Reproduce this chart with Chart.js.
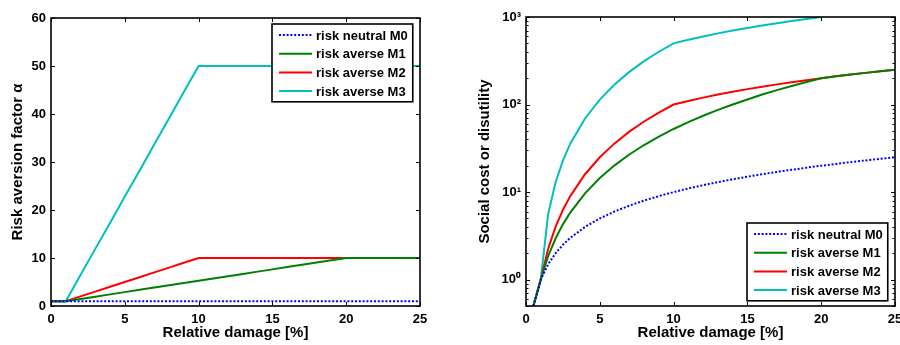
<!DOCTYPE html>
<html>
<head>
<meta charset="utf-8">
<script src="https://cdn.jsdelivr.net/npm/chart.js@4"></script>
<style>
  html, body { margin: 0; padding: 0; background: #fff; width: 900px; height: 345px; overflow: hidden; }
  #left { position: absolute; left: 0; top: 0; }
  #right { position: absolute; left: 450px; top: 0; }
</style>
</head>
<body>
<canvas id="left" width="450" height="345"></canvas>
<canvas id="right" width="470" height="345"></canvas>
<script>
// Left panel: risk aversion factor vs relative damage
const damage = [0, 1, 2, 3, 4, 5, 6, 7, 8, 9, 10, 11, 12, 13, 14, 15, 16, 17, 18, 19, 20, 21, 22, 23, 24, 25];
const alphaM0 = [1, 1, 1, 1, 1, 1, 1, 1, 1, 1, 1, 1, 1, 1, 1, 1, 1, 1, 1, 1, 1, 1, 1, 1, 1, 1];
const alphaM1 = [1, 1, 1.47, 1.95, 2.42, 2.89, 3.37, 3.84, 4.32, 4.79, 5.26, 5.74, 6.21, 6.68, 7.16, 7.63, 8.11, 8.58, 9.05, 9.53, 10, 10, 10, 10, 10, 10];
const alphaM2 = [1, 1, 2, 3, 4, 5, 6, 7, 8, 9, 10, 10, 10, 10, 10, 10, 10, 10, 10, 10, 10, 10, 10, 10, 10, 10];
const alphaM3 = [1, 1, 6.44, 11.9, 17.3, 22.8, 28.2, 33.7, 39.1, 44.6, 50, 50, 50, 50, 50, 50, 50, 50, 50, 50, 50, 50, 50, 50, 50, 50];

// Right panel: social cost (log scale)
const damageCost = [0.5, 1, 1.5, 2, 2.5, 3, 4, 5, 6, 7, 8, 9, 10, 11, 12, 13, 14, 15, 16, 17, 18, 19, 20, 21, 22, 23, 24, 25];
const costM0 = [0.5, 1, 1.5, 2, 2.5, 3, 4, 5, 6, 7, 8, 9, 10, 11, 12, 13, 14, 15, 16, 17, 18, 19, 20, 21, 22, 23, 24, 25];
const costM1 = [0.5, 1, 1.86, 2.95, 4.28, 5.84, 9.68, 14.5, 20.2, 26.9, 34.5, 43.1, 52.6, 63.1, 74.5, 86.9, 100, 114, 130, 146, 163, 181, 200, 210, 220, 230, 240, 250];
const costM2 = [0.5, 1, 2.25, 4, 6.25, 9, 16, 25, 36, 49, 64, 81, 100, 110, 120, 130, 140, 150, 160, 170, 180, 190, 200, 210, 220, 230, 240, 250];
const costM3 = [0.5, 1, 5.58, 12.9, 22.9, 35.7, 69.3, 114, 169, 236, 313, 401, 500, 550, 600, 650, 700, 750, 800, 850, 900, 950, 1000];

const seriesNames = ['risk neutral M0', 'risk averse M1', 'risk averse M2', 'risk averse M3'];
const colors = ['#0000ff', '#008000', '#ff0000', '#00bfbf'];
const decadeLabels = { 1: '10\u2070', 10: '10\u00b9', 100: '10\u00b2', 1000: '10\u00b3' };

const FONT = 'Liberation Sans, Arial, Helvetica, sans-serif';
Chart.defaults.font.family = FONT;
Chart.defaults.color = '#000';

function points(xs, ys) {
  return ys.map((y, i) => ({ x: xs[i], y }));
}

function makeDatasets(xs, lists) {
  return lists.map((ys, i) => ({
    label: seriesNames[i],
    data: points(xs, ys),
    borderColor: colors[i],
    backgroundColor: colors[i],
    borderWidth: 2,
    borderDash: i === 0 ? [2, 1.8] : [],
    pointRadius: 0,
    tension: 0
  }));
}

function line(ctx, x1, y1, x2, y2) {
  ctx.beginPath();
  ctx.moveTo(x1, y1);
  ctx.lineTo(x2, y2);
  ctx.stroke();
}

// box around plot + inward ticks, matlab style
const framePlugin = {
  id: 'frame',
  afterDatasetsDraw(chart) {
    const { ctx, chartArea: a, scales } = chart;
    const L = Math.round(a.left), R = Math.round(a.right);
    const T = Math.round(a.top), B = Math.round(a.bottom);
    ctx.save();
    ctx.strokeStyle = '#000';
    ctx.lineWidth = 1;
    scales.x.ticks.forEach(t => {
      const px = Math.round(scales.x.getPixelForValue(t.value)) + 0.5;
      line(ctx, px, B, px, B - 4);
      line(ctx, px, T, px, T + 4);
    });
    const ys = scales.y;
    ys.ticks.forEach(t => {
      const py = Math.round(ys.getPixelForValue(t.value)) + 0.5;
      line(ctx, L, py, L + 4, py);
      line(ctx, R, py, R - 4, py);
    });
    if (ys.type === 'logarithmic') {
      for (let d = 0.1; d < ys.max; d *= 10) {
        for (let k = 2; k <= 9; k++) {
          const v = d * k;
          if (v < ys.min || v > ys.max) continue;
          const py = Math.round(ys.getPixelForValue(v)) + 0.5;
          line(ctx, L, py, L + 2.5, py);
          line(ctx, R, py, R - 2.5, py);
        }
      }
    }
    ctx.lineWidth = 1.6;
    ctx.strokeRect(L, T, R - L, B - T);
    ctx.restore();
  }
};

// legend drawn inside the plot area with a black box
function boxLegend(corner) {
  return {
    id: 'boxLegend',
    afterDraw(chart) {
      const { ctx, chartArea: a } = chart;
      const sets = chart.data.datasets;
      ctx.save();
      ctx.font = 'bold 13px ' + FONT;
      const tw = Math.max(...sets.map(d => ctx.measureText(d.label).width));
      const w = 7 + 33 + 4 + tw + 5;
      const rowH = 18.7;
      const h = rowH * sets.length + 3;
      const x0 = Math.round(a.right - 7 - w);
      const y0 = corner === 'ne' ? Math.round(a.top + 6) : Math.round(a.bottom - 5 - h);
      ctx.fillStyle = '#fff';
      ctx.fillRect(x0, y0, w, h);
      ctx.strokeStyle = '#000';
      ctx.lineWidth = 1.6;
      ctx.strokeRect(x0, y0, w, h);
      sets.forEach((d, i) => {
        const cy = y0 + 11 + i * rowH;
        ctx.strokeStyle = d.borderColor;
        ctx.lineWidth = d.borderWidth;
        ctx.setLineDash(d.borderDash);
        line(ctx, x0 + 7, cy, x0 + 40, cy);
        ctx.setLineDash([]);
        ctx.fillStyle = '#000';
        ctx.textBaseline = 'middle';
        ctx.fillText(d.label, x0 + 44, cy + 1);
      });
      ctx.restore();
    }
  };
}

function baseOptions(pad, yWidth, titlePad) {
  return {
    responsive: false,
    animation: false,
    layout: { padding: pad },
    plugins: { legend: { display: false }, tooltip: { enabled: false } },
    scales: {
      x: {
        type: 'linear', min: 0, max: 25,
        grid: { display: false, drawTicks: false },
        border: { display: false },
        ticks: { stepSize: 5, padding: 6, font: { size: 13, weight: 'bold' }, maxRotation: 0 },
        title: { display: true, text: 'Relative damage [%]', font: { size: 15, weight: 'bold' }, padding: { top: 0, bottom: 3 } },
        afterFit: s => { s.height = 39; }
      },
      y: {
        grid: { display: false, drawTicks: false },
        border: { display: false },
        ticks: { padding: 5, font: { size: 13, weight: 'bold' } },
        title: { display: true, font: { size: 15, weight: 'bold' }, padding: { top: titlePad, bottom: 0 } },
        afterFit: s => { s.width = yWidth; }
      }
    }
  };
}

// left chart
const leftOpts = baseOptions({ left: 0, right: 30, top: 18, bottom: 0 }, 51, 9);
leftOpts.scales.y.type = 'linear';
leftOpts.scales.y.min = 0;
leftOpts.scales.y.max = 60;
leftOpts.scales.y.ticks.stepSize = 10;
leftOpts.scales.y.title.text = 'Risk aversion factor \u03b1';

new Chart(document.getElementById('left'), {
  type: 'line',
  data: { datasets: makeDatasets(damage, [alphaM0, alphaM1, alphaM2, alphaM3]) },
  options: leftOpts,
  plugins: [framePlugin, boxLegend('ne')]
});

// right chart
const rightOpts = baseOptions({ left: 0, right: 25, top: 17, bottom: 0 }, 76, 26);
rightOpts.scales.y.type = 'logarithmic';
rightOpts.scales.y.min = 0.5;
rightOpts.scales.y.max = 1000;
rightOpts.scales.y.afterBuildTicks = s => {
  s.ticks = Object.keys(decadeLabels).map(v => ({ value: Number(v) }));
};
rightOpts.scales.y.ticks.callback = v => decadeLabels[v] || '';
rightOpts.scales.y.title.text = 'Social cost or disutility';

new Chart(document.getElementById('right'), {
  type: 'line',
  data: { datasets: makeDatasets(damageCost, [costM0, costM1, costM2, costM3]) },
  options: rightOpts,
  plugins: [framePlugin, boxLegend('se')]
});
</script>
</body>
</html>
